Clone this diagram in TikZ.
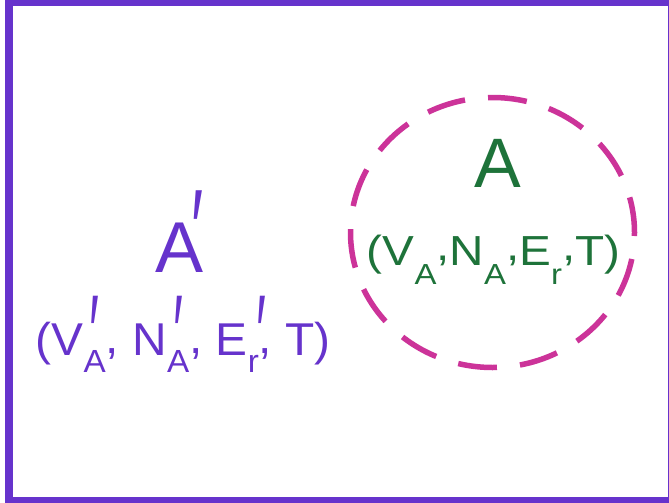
\documentclass[tikz,border=0pt]{standalone}
\usepackage{fontspec}
\setmainfont{Liberation Sans}
\definecolor{bpurple}{RGB}{102,51,204}
\definecolor{tgreen}{RGB}{30,115,58}
\definecolor{dmag}{RGB}{204,51,153}
\newcommand\fs[1]{\fontsize{#1}{#1}\selectfont}
% prime glyph, stretched to a tall thin stroke
\newcommand\pr{\scalebox{0.85}[1.8]{\fs{60}′}}
% subscript (#1) with a prime stacked above it, prime offset #2
\newcommand\sbp[2]{\rlap{\hspace{#2}\raisebox{-15pt}{\pr}}\raisebox{-17pt}{\fs{32}#1}}
% plain subscript
\newcommand\sbo[1]{\raisebox{-19pt}{\fs{29}#1}}
\newcommand\cml{\raisebox{2pt}{,}}
\newcommand\cmr{\raisebox{5pt}{,}}
\begin{document}
\begin{tikzpicture}[x=1pt,y=-1pt,
  txt/.style={inner sep=0pt,anchor=base west},
  dashring/.style={draw=dmag,line width=5.5pt,dash pattern=on 39pt off 23.17pt,dash phase=35.5pt}]
\useasboundingbox (0,0) rectangle (669,503);
\clip (0,0) rectangle (669,503);
\fill[white] (0,0) rectangle (669,503);
\draw[bpurple,line width=8pt] (9,2) rectangle (672,501);
\coordinate (cc) at (492.5,232.5);
\coordinate (cr) at (634.5,232.5);
\draw[dashring] (cr) arc[start angle=0,end angle=-360,x radius=142pt,y radius=135pt];
% left, purple
\node[txt,text=bpurple,font=\fs{72}] (aprime) at (155,272)
  {A\kern-12pt\raisebox{4pt}{\scalebox{0.9}[1.57]{\fs{72}′}}};
\node[txt,text=bpurple,font=\fs{46}] (tleft) at (35.7,355)
  {\scalebox{1.04}[1]{(V\sbp{A}{6pt}\cml{} N\sbp{A}{6pt}\cml{} E\sbp{r}{8pt}\cml{} T)}};
% right, green
\node[text=tgreen,font=\fs{70},inner sep=0pt,anchor=base] (a) at (497.5,187) {A};
\node[txt,text=tgreen,font=\fs{42}] (tright) at (366.7,265)
  {\scalebox{1.135}[1]{(V\sbo{A}\cmr N\sbo{A}\cmr E\sbo{r}\cmr T)}};
\end{tikzpicture}
\end{document}
